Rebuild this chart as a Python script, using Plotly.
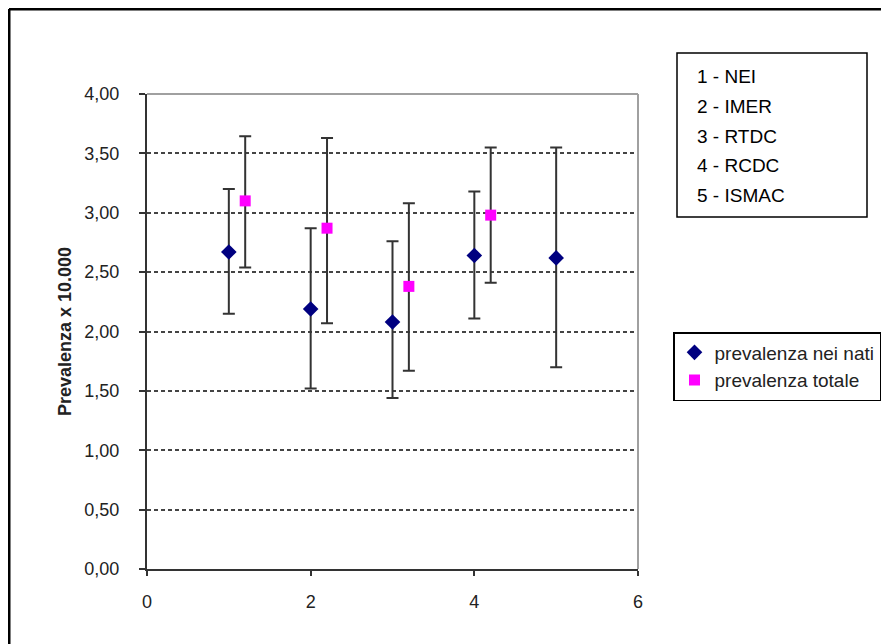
import plotly.graph_objects as go

# ---- data ----
x_nati = [1, 2, 3, 4, 5]
y_nati = [2.67, 2.19, 2.08, 2.64, 2.62]
hi_nati = [3.20, 2.87, 2.76, 3.18, 3.55]
lo_nati = [2.15, 1.52, 1.44, 2.11, 1.70]

x_tot = [1.2, 2.2, 3.2, 4.2]
y_tot = [3.10, 2.87, 2.38, 2.98]
hi_tot = [3.645, 3.63, 3.08, 3.55]
lo_tot = [2.54, 2.07, 1.67, 2.41]

series_names = ["prevalenza nei nati", "prevalenza totale"]
y_tickvals = [0, 0.5, 1, 1.5, 2, 2.5, 3, 3.5, 4]
y_ticktext = ["0,00", "0,50", "1,00", "1,50", "2,00", "2,50", "3,00", "3,50", "4,00"]
x_tickvals = [0, 2, 4, 6]
x_ticktext = ["0", "2", "4", "6"]
key_lines = ["1 - NEI", "2 - IMER", "3 - RTDC", "4 - RCDC", "5 - ISMAC"]
y_title = "Prevalenza x 10.000"

# ---- layout geometry (screen pixels; page has a small body margin) ----
W, H = 889, 644
OFF = 7
L, R, T, B = 146, 637, 93, 568

def px(xp):
    return (xp - L) / (R - L)

def py(yp):
    return (B - yp) / (B - T)

fig = go.Figure()
fig.add_trace(go.Scatter(
    x=x_nati, y=y_nati, mode="markers", name=series_names[0],
    marker=dict(symbol="diamond", size=12, color="#000080"),
    error_y=dict(type="data", symmetric=False,
                 array=[h - v for h, v in zip(hi_nati, y_nati)],
                 arrayminus=[v - l for l, v in zip(lo_nati, y_nati)],
                 color="#333333", thickness=2, width=6),
))
fig.add_trace(go.Scatter(
    x=x_tot, y=y_tot, mode="markers", name=series_names[1],
    marker=dict(symbol="square", size=11, color="#FF00FF"),
    error_y=dict(type="data", symmetric=False,
                 array=[h - v for h, v in zip(hi_tot, y_tot)],
                 arrayminus=[v - l for l, v in zip(lo_tot, y_tot)],
                 color="#333333", thickness=2, width=6),
))

shapes = [
    dict(type="line", xref="paper", yref="paper", x0=0, x1=1, y0=1, y1=1,
         line=dict(color="#a0a0a0", width=2), layer="above"),
    dict(type="line", xref="paper", yref="paper", x0=1, x1=1, y0=0, y1=1,
         line=dict(color="#a0a0a0", width=2), layer="above"),
    dict(type="line", xref="paper", yref="paper", x0=px(8), x1=px(8), y0=py(8), y1=py(H + 20),
         line=dict(color="black", width=3)),
    dict(type="line", xref="paper", yref="paper", x0=px(8), x1=px(W + 20), y0=py(8), y1=py(8),
         line=dict(color="black", width=3)),
    dict(type="rect", xref="paper", yref="paper", x0=px(676), x1=px(866), y0=py(52), y1=py(216),
         line=dict(color="black", width=1.5), fillcolor="white"),
]

annotations = []
for i, t in enumerate(key_lines):
    annotations.append(dict(
        text=t, xref="paper", yref="paper", x=px(694), y=py(76 + 29.5 * i),
        xanchor="left", yanchor="middle", showarrow=False,
        font=dict(family="Arial, Liberation Sans", size=19, color="black"),
    ))

fig.update_layout(
    width=W, height=H,
    margin=dict(l=L - OFF, r=W - (R - OFF), t=T - OFF, b=H - (B - OFF), pad=0),
    paper_bgcolor="white", plot_bgcolor="white",
    font=dict(family="Arial, Liberation Sans", color="#222222", size=18),
    showlegend=True,
    legend=dict(x=px(672), y=py(331), xanchor="left", yanchor="top",
                bordercolor="black", borderwidth=1.5, bgcolor="white",
                font=dict(size=19, color="#222222"), itemwidth=30,
                tracegroupgap=0),
    shapes=shapes, annotations=annotations,
    xaxis=dict(range=[0, 6], tickvals=x_tickvals, ticktext=x_ticktext,
               showgrid=False, zeroline=False, showline=True,
               linecolor="#333333", linewidth=2, ticks="outside",
               ticklen=5, tickwidth=2, tickcolor="#333333",
               ticklabelstandoff=10, tickfont=dict(size=18)),
    yaxis=dict(range=[0, 4], tickvals=y_tickvals, ticktext=y_ticktext,
               showgrid=True, gridcolor="#444444", gridwidth=2,
               griddash="4px,3px", zeroline=False, showline=True,
               linecolor="#333333", linewidth=2, ticks="outside",
               ticklen=6, tickwidth=2, tickcolor="#333333",
               ticklabelstandoff=16, tickfont=dict(size=18),
               title=dict(text="<b>" + y_title + "</b>", font=dict(size=18),
                          standoff=8)),
)

fig.write_html("out.html")
